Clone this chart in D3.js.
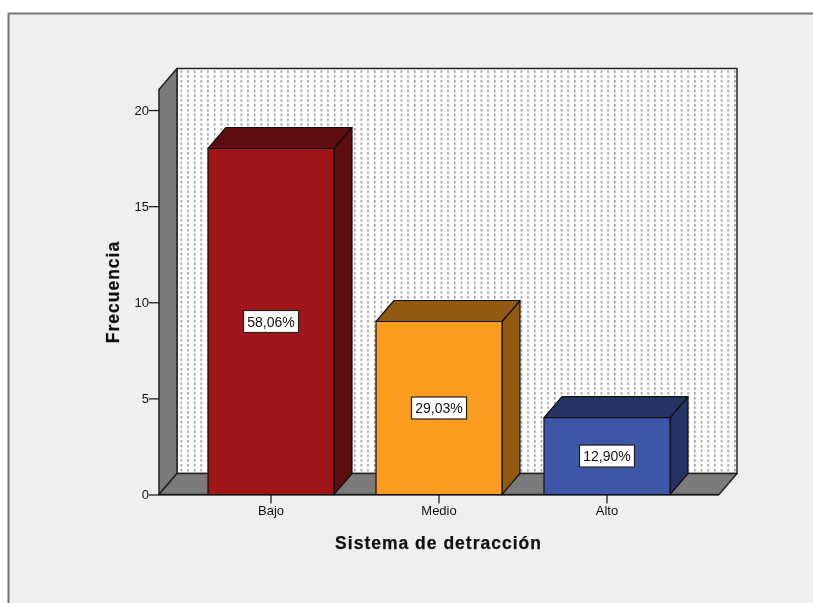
<!DOCTYPE html>
<html><head><meta charset="utf-8">
<script src="https://cdn.jsdelivr.net/npm/d3@7/dist/d3.min.js"></script>
<style>html,body{margin:0;padding:0;background:#fff}svg{display:block;filter:blur(0.35px)}text{font-family:"Liberation Sans",Arial,sans-serif;fill:#111}</style>
</head><body><svg id="c" width="813" height="603"></svg>
<script>
const categories = ["Bajo","Medio","Alto"];
const frequencies = [18,9,4];
const percentLabels = ["58,06%","29,03%","12,90%"];
const frontColors = ["#a01517","#fb9c1e","#3d56a8"];
const sideColors = ["#5f0d0f","#925a11","#243364"];
const yTicks = [0,5,10,15,20];
const xTitle = "Sistema de detracción";
const yTitle = "Frecuencia";

const svg = d3.select("#c");
const dx = 18, dy = -21, L = 159, R = 719, B = 494.5, T = 89.5;
const x = d3.scaleBand().domain(categories).range([L,R]).paddingInner(0.25).paddingOuter(0.2917);
const y = d3.scaleLinear().domain([0,21.07]).range([B,T]);

// frame
svg.append("rect").attr("x",0).attr("y",0).attr("width",813).attr("height",603).attr("fill","#fff");
svg.append("rect").attr("x",8).attr("y",13).attr("width",805).attr("height",590).attr("fill","#efefef");
svg.append("path").attr("d","M8.5,603V13.5H813").attr("fill","none").attr("stroke","#777").attr("stroke-width",2);

// dotted wall pattern
const defs = svg.append("defs");
const pW = 6.67, pH = 4.8;
const pat = defs.append("pattern").attr("id","dots").attr("patternUnits","userSpaceOnUse")
  .attr("x",L+dx+3.5).attr("y",T+dy+2).attr("width",pW).attr("height",pH);
pat.append("rect").attr("width",pW).attr("height",pH).attr("fill","#fff");
pat.append("rect").attr("x",0).attr("y",0).attr("width",1.5).attr("height",2.5).attr("fill","#949494");

function poly(pts,fill,stroke,w){
  return svg.append("polygon").attr("points",pts.map(p=>p.join(",")).join(" "))
    .attr("fill",fill).attr("stroke",stroke).attr("stroke-width",w).attr("stroke-linejoin","round");
}
// back wall, left wall, floor
poly([[L+dx,T+dy],[R+dx,T+dy],[R+dx,B+dy],[L+dx,B+dy]],"url(#dots)","#222",1.5);
poly([[L,T],[L+dx,T+dy],[L+dx,B+dy],[L,B]],"#7b7b7b","#222",1.5);
poly([[L,B],[L+dx,B+dy],[R+dx,B+dy],[R,B]],"#7b7b7b","#222",1.5);

// bars
categories.forEach((c,i)=>{
  const x0=x(c), x1=x0+x.bandwidth(), yt=y(frequencies[i]);
  poly([[x1,yt],[x1+dx,yt+dy],[x1+dx,B+dy],[x1,B]],sideColors[i],"#111",1.2);
  poly([[x0,yt],[x0+dx,yt+dy],[x1+dx,yt+dy],[x1,yt]],sideColors[i],"#111",1.2);
  poly([[x0,yt],[x1,yt],[x1,B],[x0,B]],frontColors[i],"#111",1.2);
});

// axes
const ax = svg.append("g").attr("transform",`translate(${L},0)`)
  .call(d3.axisLeft(y).tickValues(yTicks).tickSize(10).tickPadding(0).tickFormat(d3.format("d")));
ax.select(".domain").remove();
const bx = svg.append("g").attr("transform",`translate(0,${B})`)
  .call(d3.axisBottom(x).tickSize(9).tickPadding(2));
bx.select(".domain").attr("d",`M${L},0.5H${R}`).attr("stroke","#111").attr("stroke-width",1.2);
svg.selectAll(".tick line").attr("stroke","#111").attr("stroke-width",1.2);
svg.selectAll(".tick text").attr("font-size",13).attr("font-family",'"Liberation Sans"').attr("fill","#222");

// value labels
categories.forEach((c,i)=>{
  const cx=x(c)+x.bandwidth()/2, cy=(y(frequencies[i])+B)/2;
  svg.append("rect").attr("x",cx-27.5).attr("y",cy-11).attr("width",55).attr("height",22)
    .attr("fill","#fff").attr("stroke","#222").attr("stroke-width",1.2);
  svg.append("text").attr("x",cx).attr("y",cy+5).attr("text-anchor","middle").attr("font-size",14).attr("fill","#222").text(percentLabels[i]);
});

// titles
svg.append("text").attr("x",438.5).attr("y",549).attr("text-anchor","middle").attr("font-size",17.5)
  .attr("font-weight","bold").attr("letter-spacing","1px").attr("stroke","#111").attr("stroke-width",0.25).text(xTitle);
svg.append("text").attr("transform","translate(119,292) rotate(-90)").attr("text-anchor","middle").attr("font-size",17.5)
  .attr("font-weight","bold").attr("letter-spacing","1px").attr("stroke","#111").attr("stroke-width",0.25).text(yTitle);
</script></body></html>
